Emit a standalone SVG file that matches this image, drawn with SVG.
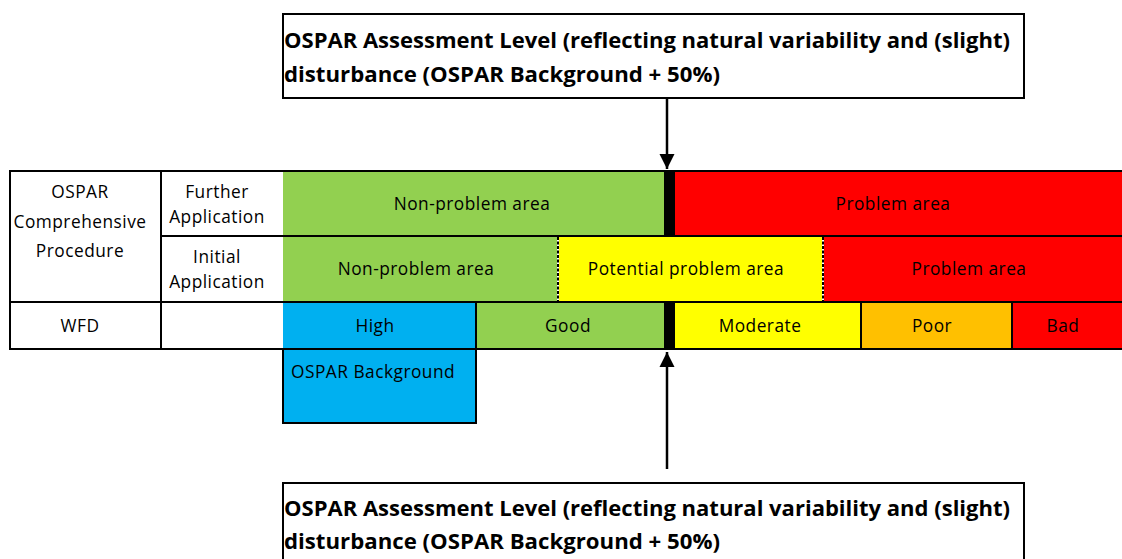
<svg xmlns="http://www.w3.org/2000/svg" width="1122" height="559" viewBox="0 0 1122 559">
  <style>
    .lbl { font-family: "Open Sans", "Liberation Sans", sans-serif; font-size: 17.3px; letter-spacing: 0.5px; fill: #000; text-anchor: middle; }
    .ttl { font-family: "Open Sans", "Liberation Sans", sans-serif; font-size: 20.5px; font-weight: bold; fill: #000; }
    .grid { stroke: #000; stroke-width: 2; fill: none; }
    .box { fill: #fff; stroke: #000; stroke-width: 2; }
    .green { fill: #92D050; }
    .red { fill: #FF0000; }
    .yellow { fill: #FFFF00; }
    .blue { fill: #00B0F0; }
    .orange { fill: #FFC000; }
    .conn { stroke: #000; stroke-width: 2.5; fill: none; marker-end: url(#arrow); }
  </style>
  <defs>
    <marker id="arrow" viewBox="0 0 10 10" refX="10" refY="5" markerWidth="6" markerHeight="7" markerUnits="strokeWidth" orient="auto">
      <path d="M0,0 L10,5 L0,10 Z" fill="#000"/>
    </marker>
  </defs>
  <rect width="1122" height="559" fill="#fff"/>

  <!-- row 1: further application -->
  <g id="row-further">
    <rect class="green" x="283" y="171" width="381" height="65"/>
    <rect x="664" y="171" width="11" height="65" fill="#000"/>
    <rect class="red" x="675" y="171" width="447" height="65"/>
    <text class="lbl" x="472" y="210">Non-problem area</text>
    <text class="lbl" x="893" y="210">Problem area</text>
  </g>

  <!-- row 2: initial application -->
  <g id="row-initial">
    <rect class="green" x="283" y="236" width="275" height="66"/>
    <rect class="yellow" x="558" y="236" width="265" height="66"/>
    <rect class="red" x="823" y="236" width="299" height="66"/>
    <line x1="558" y1="237" x2="558" y2="301" stroke="#fff" stroke-width="2"/>
    <line x1="558" y1="237" x2="558" y2="301" stroke="#000" stroke-width="2" stroke-dasharray="3 1.5"/>
    <line x1="823" y1="237" x2="823" y2="301" stroke="#fff" stroke-width="2"/>
    <line x1="823" y1="237" x2="823" y2="301" stroke="#000" stroke-width="2" stroke-dasharray="3 1.5"/>
    <text class="lbl" x="416" y="275">Non-problem area</text>
    <text class="lbl" x="686" y="275">Potential problem area</text>
    <text class="lbl" x="969" y="275">Problem area</text>
  </g>

  <!-- row 3: WFD classes -->
  <g id="row-wfd">
    <rect class="blue" x="283" y="302" width="193" height="47"/>
    <rect class="green" x="476" y="302" width="188" height="47"/>
    <rect x="664" y="302" width="11" height="47" fill="#000"/>
    <rect class="yellow" x="675" y="302" width="186" height="47"/>
    <rect class="orange" x="861" y="302" width="151" height="47"/>
    <rect class="red" x="1012" y="302" width="110" height="47"/>
    <line class="grid" x1="476" y1="302" x2="476" y2="349"/>
    <line class="grid" x1="861" y1="302" x2="861" y2="349"/>
    <line class="grid" x1="1012" y1="302" x2="1012" y2="349"/>
    <text class="lbl" x="375" y="332">High</text>
    <text class="lbl" x="568" y="332">Good</text>
    <text class="lbl" x="760" y="332">Moderate</text>
    <text class="lbl" x="932" y="332">Poor</text>
    <text class="lbl" x="1063" y="332">Bad</text>
  </g>

  <!-- table rules and row headers -->
  <g id="headers">
    <line class="grid" x1="10" y1="171" x2="1122" y2="171"/>
    <line class="grid" x1="161" y1="236" x2="1122" y2="236"/>
    <line class="grid" x1="10" y1="302" x2="1122" y2="302"/>
    <line class="grid" x1="10" y1="349" x2="1122" y2="349"/>
    <line class="grid" x1="10" y1="170" x2="10" y2="350"/>
    <line class="grid" x1="161" y1="170" x2="161" y2="350"/>
    <text class="lbl" x="80" y="198">OSPAR</text>
    <text class="lbl" x="80" y="228">Comprehensive</text>
    <text class="lbl" x="80" y="257">Procedure</text>
    <text class="lbl" x="217" y="198">Further</text>
    <text class="lbl" x="217" y="223">Application</text>
    <text class="lbl" x="217" y="263">Initial</text>
    <text class="lbl" x="217" y="288">Application</text>
    <text class="lbl" x="80" y="332">WFD</text>
  </g>

  <!-- background reference box -->
  <g id="ospar-background">
    <rect x="283" y="349" width="193" height="74" fill="#00B0F0" stroke="#000" stroke-width="2"/>
    <text class="lbl" x="291" y="378" style="text-anchor:start">OSPAR Background</text>
  </g>

  <!-- assessment level callouts -->
  <g id="callout-top">
    <rect class="box" x="283" y="14" width="741" height="84"/>
    <text class="ttl" x="284" y="48" textLength="726" lengthAdjust="spacingAndGlyphs">OSPAR Assessment Level (reflecting natural variability and (slight)</text>
    <text class="ttl" x="284" y="82" textLength="436" lengthAdjust="spacingAndGlyphs">disturbance (OSPAR Background + 50%)</text>
  </g>
  <g id="callout-bottom">
    <rect class="box" x="283" y="483" width="741" height="90"/>
    <text class="ttl" x="284" y="516" textLength="726" lengthAdjust="spacingAndGlyphs">OSPAR Assessment Level (reflecting natural variability and (slight)</text>
    <text class="ttl" x="284" y="549" textLength="436" lengthAdjust="spacingAndGlyphs">disturbance (OSPAR Background + 50%)</text>
  </g>

  <g id="connectors">
    <line class="conn" x1="667" y1="98" x2="667" y2="169"/>
    <line class="conn" x1="667" y1="469" x2="667" y2="352"/>
  </g>
</svg>
